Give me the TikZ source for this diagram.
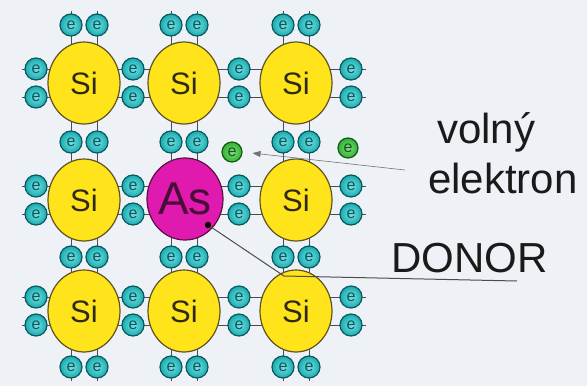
\documentclass[tikz,border=0pt]{standalone}
\usepackage{fontspec}
\setmainfont{Liberation Sans}
\usetikzlibrary{arrows.meta,shapes.geometric}
\definecolor{latticebg}{HTML}{EEF2F6}
\definecolor{siyellow}{HTML}{FFE41C}
\definecolor{siedge}{HTML}{5E5322}
\definecolor{sitext}{HTML}{2E2A12}
\definecolor{asmagenta}{HTML}{E01AAE}
\definecolor{asedge}{HTML}{5A1046}
\definecolor{eteal}{HTML}{17ACB0}
\definecolor{elight}{HTML}{7ADFE0}
\definecolor{eedge}{HTML}{0C5860}
\definecolor{egreen}{HTML}{2DB52D}
\definecolor{egreenedge}{HTML}{145A14}
\definecolor{lbltext}{HTML}{1A1A1A}

\tikzset{
  atom/.style={ellipse, draw=siedge, line width=1.2pt, fill=siyellow,
    minimum width=72pt, minimum height=82pt, inner sep=0pt,
    font=\fontsize{31}{31}\selectfont, text=sitext},
  donoratom/.style={atom, draw=asedge, fill=asmagenta,
    minimum width=76pt, font=\fontsize{46}{46}\selectfont, text=asedge!80!black},
  electron/.style={circle, draw=eedge, line width=1.2pt, inner color=elight,
    outer color=eteal, minimum size=22pt, inner sep=0pt,
    font=\fontsize{16}{16}\selectfont, text=eedge},
  freeelectron/.style={electron, draw=egreenedge, inner color=egreen!55!white,
    outer color=egreen, text=egreenedge, minimum size=20pt},
  bond/.style={draw=black!70, line width=0.8pt},
  caption/.style={font=\fontsize{42}{48}\selectfont, text=lbltext,
    inner sep=0pt, anchor=base west},
}

\begin{document}
\begin{tikzpicture}[x=1pt, y=-1pt]
  \fill[latticebg] (0,0) rectangle (587,386);
  \useasboundingbox (0,0) rectangle (587,386);

  % bonds: pairs of lines along the rows and columns, stubs show at the edges
  \foreach \y in {83,200,311}
    \foreach \d in {-14,14}
      \draw[bond] (22,{\y+\d}) -- (366,{\y+\d});
  \foreach \x in {84,184,296}
    \foreach \d in {-13,13}
      \draw[bond] ({\x+\d},11) -- ({\x+\d},381);

  % silicon atoms, the arsenic donor in the middle
  \foreach \n/\x/\y in {a/84/83, b/184/83, c/296/83,
                        d/84/200, f/296/200,
                        g/84/311, h/184/311, i/296/311}
    \node[atom] (si-\n) at (\x,\y) {Si};
  \node[donoratom] (as) at (185,199) {As};

  % shared valence electrons, two per bond
  \foreach \y in {83,200,311}
    \foreach \x in {36,133,239,351}
      \foreach \d/\s in {-14/a,14/b}
        \node[electron] (eh-\x-\y\s) at (\x,{\y+\d}) {e};
  \foreach \x in {84,184,296}
    \foreach \y in {25,142,257,367}
      \foreach \d/\s in {-13/a,13/b}
        \node[electron] (ev-\x-\y\s) at ({\x+\d},\y) {e};

  % free electrons
  \node[freeelectron] (free1) at (232,152) {e};
  \node[freeelectron] (free2) at (348,148) {e};

  % labels
  \node[caption] (volny) at (437,143) {volný};
  \node[caption] (elektron) at (428,193) {elektron};
  \node[caption] (donor) at (391,272) {DONOR};

  % pointer to the free electron
  \coordinate (freetail) at (405,170);
  \draw[-{Triangle[length=8pt,width=6pt]}, black!55, line width=0.6pt,
        shorten >=10pt] (freetail) -- (free1.east);

  % donor leader line from the As atom
  \coordinate (asdot) at (208,225);
  \coordinate (bend) at (284,276);
  \coordinate (donorend) at (517,281);
  \draw[black!70, line width=1pt] (asdot) -- (bend) -- (donorend);
  \fill[black] (asdot) circle (3.2pt);
\end{tikzpicture}
\end{document}
